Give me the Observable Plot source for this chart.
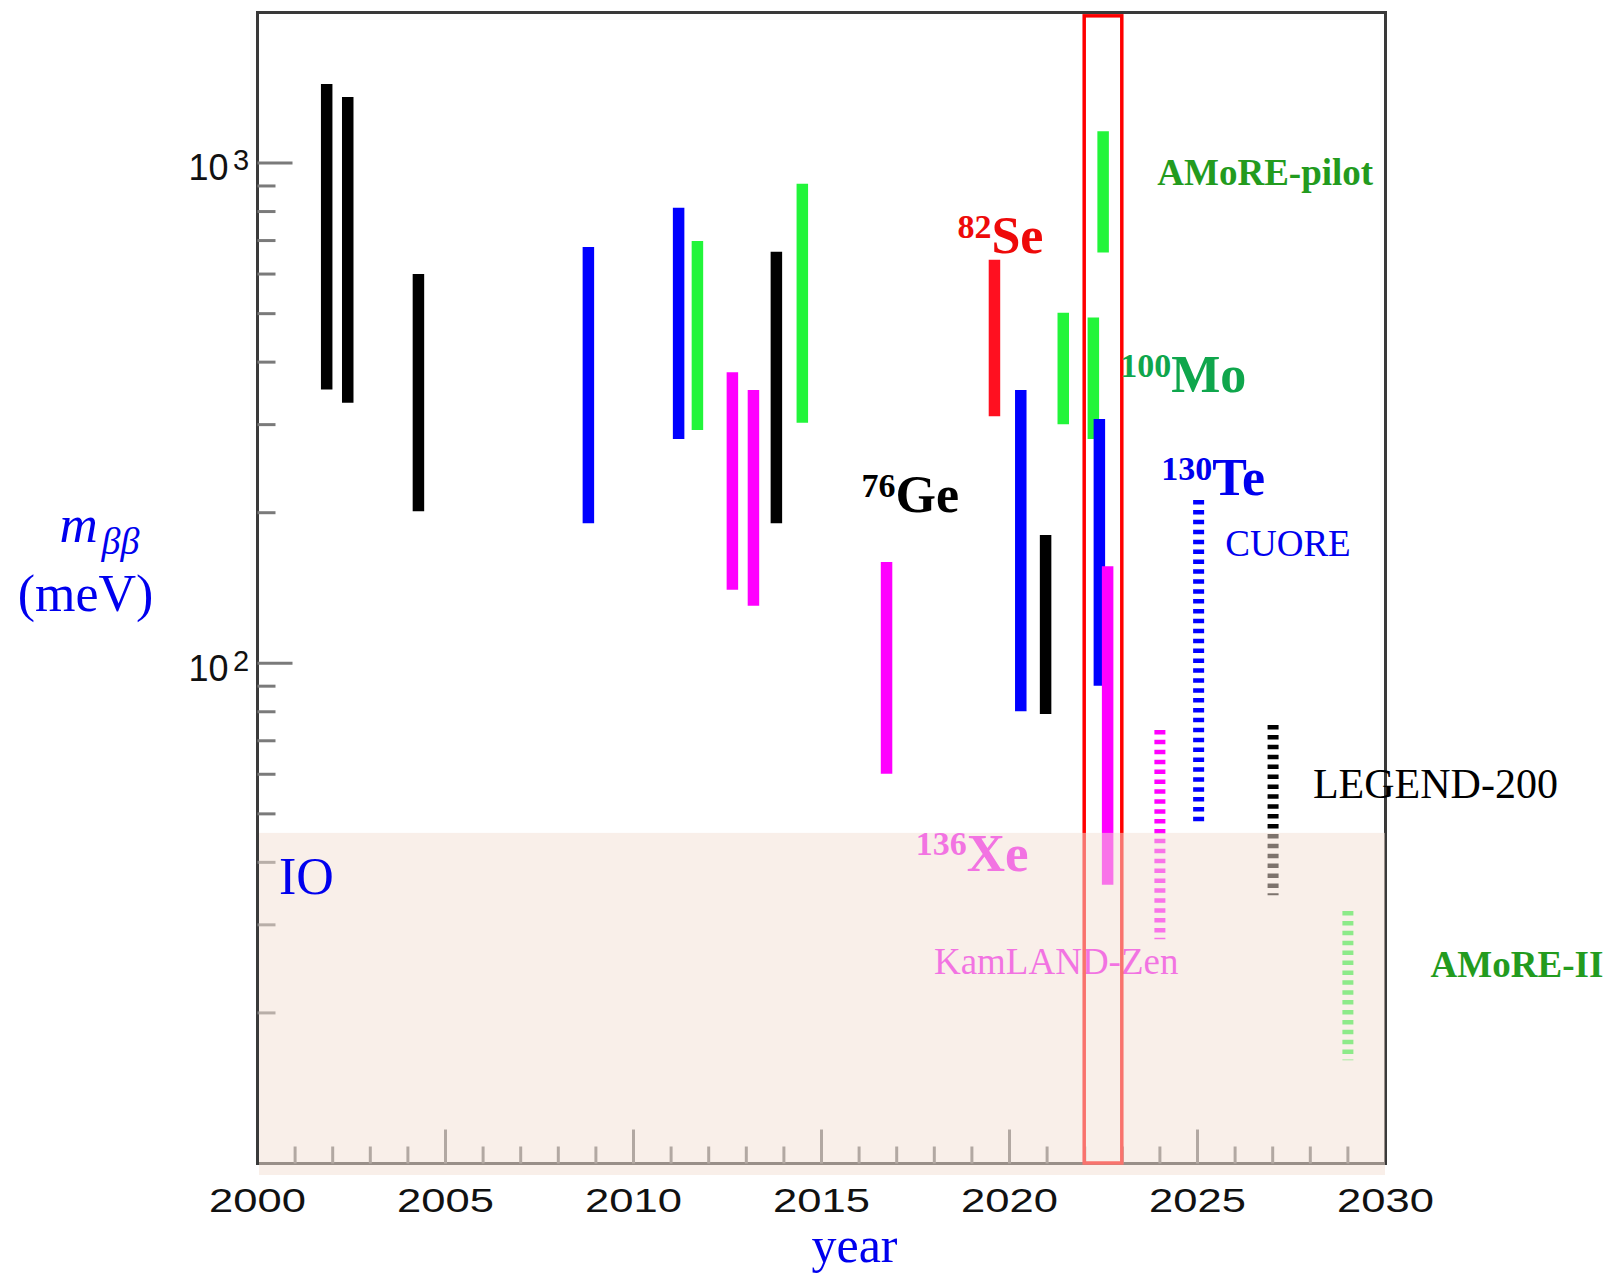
<!DOCTYPE html>
<html>
<head>
<meta charset="utf-8">
<script src="https://cdn.jsdelivr.net/npm/d3@7"></script>
<script src="https://cdn.jsdelivr.net/npm/@observablehq/plot@0.6"></script>
<style>
  body { margin: 0; background: #ffffff; }
</style>
</head>
<body>
<div id="chart"></div>
<script>
// Published 0νββ limit ranges on the effective Majorana mass (meV)
const resultYear    = [2001.84, 2002.40, 2004.28, 2008.80, 2011.20, 2011.70, 2012.63, 2013.19, 2013.80, 2014.49,
                       2016.73, 2019.60, 2020.30, 2020.96, 2021.43, 2022.23, 2022.39, 2022.49, 2022.61];
const resultLow     = [352, 331, 201, 190, 280, 292, 140, 130, 190, 302,
                       60, 311, 80, 79, 300, 280, 90, 661, 36];
const resultHigh    = [1436, 1353, 599, 678, 812, 697, 381, 351, 663, 907,
                       159, 639, 351, 180, 501, 490, 307, 1155, 156];
const resultIsotope = ["Ge", "Ge", "Ge", "Te", "Te", "Mo", "Xe", "Xe", "Ge", "Mo",
                       "Xe", "Se", "Te", "Ge", "Mo", "Mo", "Te", "Mo", "Xe"];

// Projected sensitivities of upcoming experiments (meV)
const projYear    = [2024.0, 2025.03, 2027.01, 2029.0];
const projLow     = [28.0, 48.1, 34.3, 16.05];
const projHigh    = [73.4, 211.5, 75.1, 31.9];
const projIsotope = ["Xe", "Te", "Ge", "Mo"];

// Inverted-ordering band and the highlighted 2022 column
const ioBand    = [{from: 2000, to: 2030, low: 10, high: 45.7}];
const highlight = [{from: 2022, to: 2023, low: 10, high: 1965}];

// Axis ticks
const majorYears = [2000, 2005, 2010, 2015, 2020, 2025, 2030];
const minorYears = d3.range(2001, 2030).filter(y => y % 5 !== 0);
const majorMeV   = [100, 1000];
const minorMeV   = [20, 30, 40, 50, 60, 70, 80, 90, 200, 300, 400, 500, 600, 700, 800, 900];

// Annotation anchors (year, meV)
const isotopeLabels = [
  {sup: "82",  main: "Se", isotope: "Se", year: 2019.52, mev: 660.7},
  {sup: "100", main: "Mo", isotope: "Mo", year: 2024.30, mev: 349.4},
  {sup: "130", main: "Te", isotope: "Te", year: 2025.39, mev: 216.5},
  {sup: "76",  main: "Ge", isotope: "Ge", year: 2016.97, mev: 201.1},
  {sup: "136", main: "Xe", isotope: "Xe", year: 2018.86, mev: 38.5}
];
const experimentLabels = [
  {name: "AMoRE-pilot", year: 2023.93, mev: 902},
  {name: "CUORE",       year: 2025.74, mev: 164.2},
  {name: "LEGEND-200",  year: 2028.07, mev: 53.8},
  {name: "AMoRE-II",    year: 2031.20, mev: 23.6},
  {name: "KamLAND-Zen", year: 2017.99, mev: 23.9}
];
const bandLabel = [{name: "IO", year: 2000.57, mev: 34.6}];

const barColor = {Ge: "#000000", Te: "#0000ff", Mo: "#22f53a", Xe: "#ff00ff", Se: "#ff1020"};
const textColor = {Ge: "#000000", Te: "#0000ee", Mo: "#0fa64c", Xe: "#f000f0", Se: "#ee0a0a"};
const expColor = {"AMoRE-pilot": "#239b1e", "AMoRE-II": "#239b1e", "CUORE": "#0000ee", "LEGEND-200": "#000000", "KamLAND-Zen": "#f000f0"};

const results = resultYear.map((year, i) => ({year, low: resultLow[i], high: resultHigh[i], isotope: resultIsotope[i]}));
const projections = projYear.map((year, i) => ({year, low: projLow[i], high: projHigh[i], isotope: projIsotope[i]}));

const serif = "Liberation Serif, Times New Roman, serif";
const sans = "Liberation Sans, Arial, Helvetica, sans-serif";

const underBand = d => d.name === "KamLAND-Zen";
const tickStyle = {r: 0, anchor: "start", strokeWidth: 3, strokeLinecap: "butt"};

const svg = Plot.plot({
  width: 1607,
  height: 1274,
  marginLeft: 257,
  marginRight: 222,
  marginTop: 12,
  marginBottom: 111,
  x: {domain: [2000, 2030], axis: null},
  y: {type: "log", domain: [10, 2000], axis: null},
  color: {type: "identity"},
  style: {background: "#ffffff", overflow: "visible"},
  marks: [
    Plot.frame({stroke: "#3a3a3a", strokeWidth: 3}),

    // inward ticks
    Plot.vector(minorYears, {x: d => d, frameAnchor: "bottom", length: 17, rotate: 0, stroke: "#6e6e6e", ...tickStyle}),
    Plot.vector(majorYears.slice(1, -1), {x: d => d, frameAnchor: "bottom", length: 34, rotate: 0, stroke: "#6e6e6e", ...tickStyle}),
    Plot.vector(minorMeV, {y: d => d, frameAnchor: "left", length: 18, rotate: 90, stroke: "#7a7a7a", ...tickStyle}),
    Plot.vector(majorMeV, {y: d => d, frameAnchor: "left", length: 35, rotate: 90, stroke: "#7a7a7a", ...tickStyle}),

    // limit ranges
    Plot.ruleX(results, {x: "year", y1: "low", y2: "high", stroke: d => barColor[d.isotope], strokeWidth: 11.5}),
    Plot.ruleX(projections, {x: "year", y1: "high", y2: "low", stroke: d => barColor[d.isotope], strokeWidth: 11, strokeDasharray: "4.5,5.4"}),

    // labels that sit beneath the IO band
    Plot.text(isotopeLabels.filter(d => d.isotope === "Xe"), {x: "year", y: "mev", text: "sup", textAnchor: "end", lineAnchor: "bottom", dy: -16, fontSize: 34, fontWeight: "bold", fontFamily: serif, fill: d => textColor[d.isotope]}),
    Plot.text(isotopeLabels.filter(d => d.isotope === "Xe"), {x: "year", y: "mev", text: "main", textAnchor: "start", lineAnchor: "bottom", fontSize: 53, fontWeight: "bold", fontFamily: serif, fill: d => textColor[d.isotope]}),
    Plot.text(experimentLabels.filter(underBand), {x: "year", y: "mev", text: "name", textAnchor: "start", lineAnchor: "bottom", fontSize: 37, fontFamily: serif, fill: d => expColor[d.name]}),

    Plot.rect(highlight, {x1: "from", x2: "to", y1: "low", y2: "high", fill: "none", stroke: "#ff0000", strokeWidth: 3.5}),

    // inverted-ordering region, translucent over everything beneath
    Plot.rect(ioBand, {x1: "from", x2: "to", y1: "low", y2: "high", fill: "#f3e0d4", fillOpacity: 0.514, insetLeft: 2, insetBottom: -12}),

    Plot.text(bandLabel, {x: "year", y: "mev", text: "name", textAnchor: "start", lineAnchor: "bottom", fontSize: 52, fontFamily: serif, fill: "#0000ee"}),

    // isotope labels
    Plot.text(isotopeLabels.filter(d => d.isotope !== "Xe"), {x: "year", y: "mev", text: "sup", textAnchor: "end", lineAnchor: "bottom", dy: -15, fontSize: 34, fontWeight: "bold", fontFamily: serif, fill: d => textColor[d.isotope]}),
    Plot.text(isotopeLabels.filter(d => d.isotope !== "Xe"), {x: "year", y: "mev", text: "main", textAnchor: "start", lineAnchor: "bottom", fontSize: 52, fontWeight: "bold", fontFamily: serif, fill: d => textColor[d.isotope]}),

    // experiment labels
    Plot.text(experimentLabels.filter(d => d.name.startsWith("AMoRE")), {x: "year", y: "mev", text: "name", textAnchor: "start", lineAnchor: "bottom", fontSize: 37, fontWeight: "bold", fontFamily: serif, fill: d => expColor[d.name]}),
    Plot.text(experimentLabels.filter(d => d.name === "CUORE"), {x: "year", y: "mev", text: "name", textAnchor: "start", lineAnchor: "bottom", fontSize: 37, fontFamily: serif, fill: d => expColor[d.name]}),
    Plot.text(experimentLabels.filter(d => d.name === "LEGEND-200"), {x: "year", y: "mev", text: "name", textAnchor: "start", lineAnchor: "bottom", fontSize: 42, fontFamily: serif, fill: d => expColor[d.name]}),

    // tick labels
    Plot.text(majorYears, {x: d => d, text: d => String(d), frameAnchor: "bottom", dy: 48.5, lineAnchor: "bottom", fontSize: 34, fontFamily: sans, fill: "#111111"}),
    Plot.text(majorMeV, {y: d => d, text: () => "10", frameAnchor: "left", textAnchor: "end", dx: -29, dy: 17.3, lineAnchor: "bottom", fontSize: 36, fontFamily: sans, fill: "#111111"}),
    Plot.text(majorMeV, {y: d => d, text: d => String(Math.round(Math.log10(d))), frameAnchor: "left", textAnchor: "start", dx: -24.5, dy: 7.3, lineAnchor: "bottom", fontSize: 29, fontFamily: sans, fill: "#111111"}),

    // axis titles
    Plot.text(["m"], {frameAnchor: "top-left", dx: -198, dy: 529.7, textAnchor: "start", lineAnchor: "bottom", fontSize: 53, fontStyle: "italic", fontFamily: serif, fill: "#0000ee"}),
    Plot.text(["ββ"], {frameAnchor: "top-left", dx: -156, dy: 541, textAnchor: "start", lineAnchor: "bottom", fontSize: 38, fontStyle: "italic", fontFamily: serif, fill: "#0000ee"}),
    Plot.text(["(meV)"], {frameAnchor: "top-left", dx: -172, dy: 598.7, textAnchor: "middle", lineAnchor: "bottom", fontSize: 52, fontFamily: serif, fill: "#0000ee"}),
    Plot.text(["year"], {frameAnchor: "top-left", dx: 597, dy: 1249.7, textAnchor: "middle", lineAnchor: "bottom", fontSize: 50, fontFamily: serif, fill: "#0000ee"})
  ]
});

// widen the year tick labels horizontally
d3.select(svg).selectAll("text")
  .filter(function () { return /^20[0-3][05]$/.test(this.textContent); })
  .each(function () {
    const t = this.getAttribute("transform");
    if (t) {
      this.setAttribute("transform", t + " scale(1.28,1)");
    } else {
      const x = +this.getAttribute("x") || 0, y = +this.getAttribute("y") || 0;
      this.removeAttribute("x");
      this.removeAttribute("y");
      this.setAttribute("transform", `translate(${x},${y}) scale(1.28,1)`);
    }
  });

document.getElementById("chart").appendChild(svg);
</script>
</body>
</html>
